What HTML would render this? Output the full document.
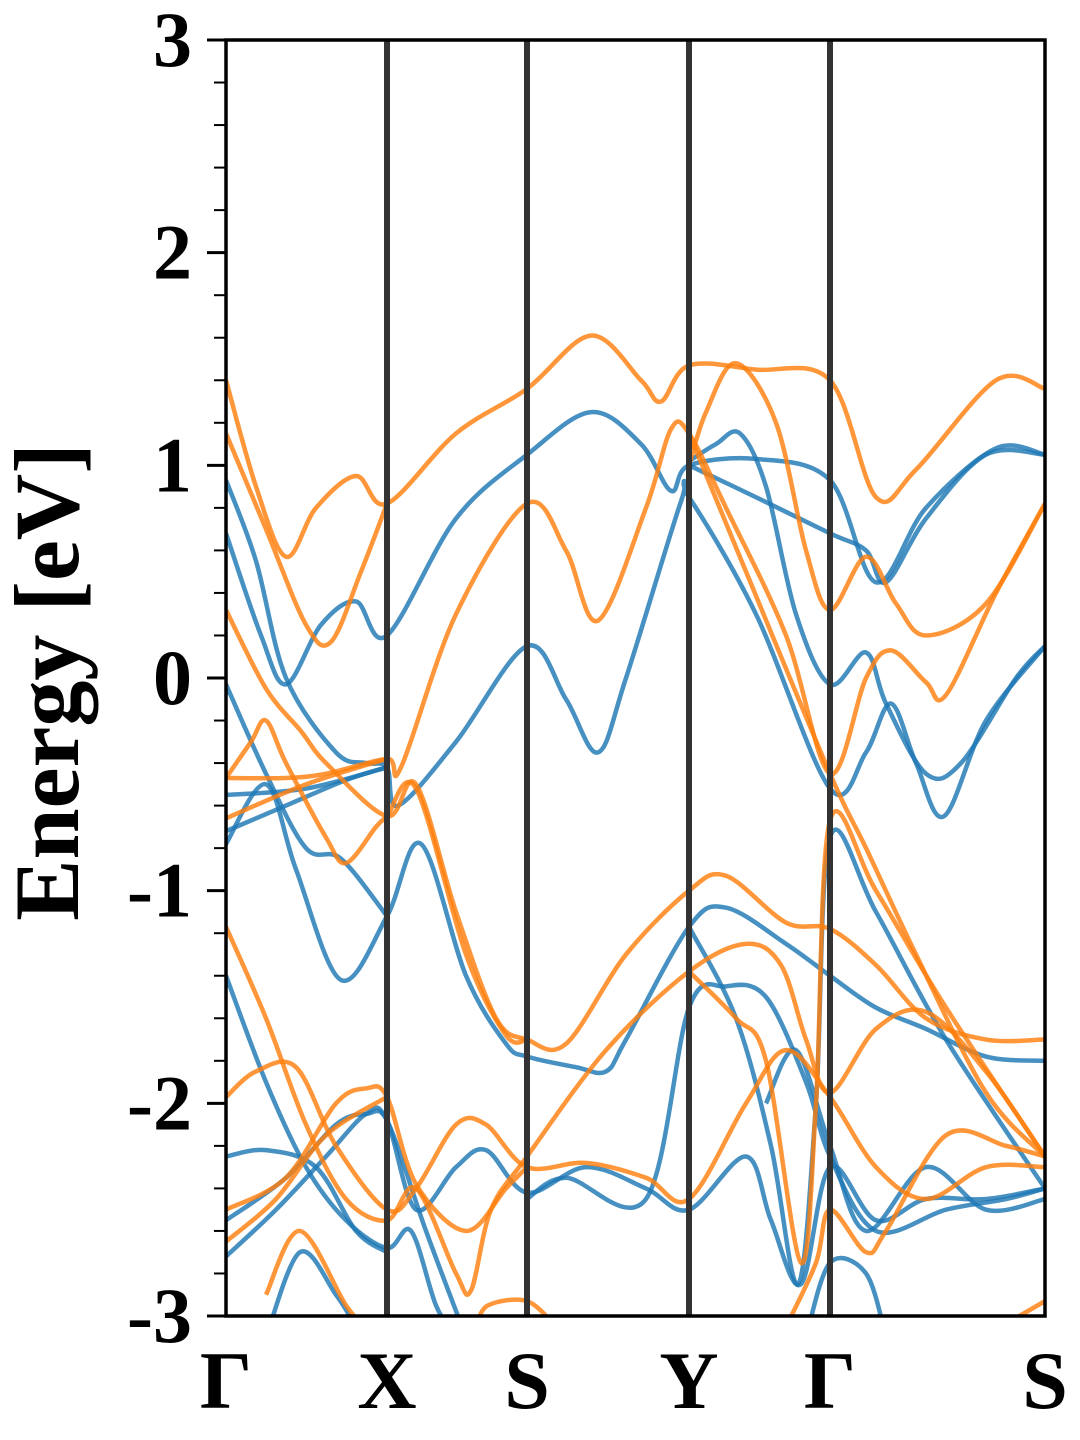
<!DOCTYPE html>
<html><head><meta charset="utf-8"><style>
html,body{margin:0;padding:0;background:#fff;}
svg{display:block;}
text{font-family:"Liberation Serif","Times New Roman",serif;font-weight:bold;fill:#000;}
</style></head>
<body>
<svg id="chart" width="1080" height="1440" viewBox="0 0 1080 1440" xmlns="http://www.w3.org/2000/svg">
<defs><clipPath id="clip"><rect x="226" y="40" width="819" height="1276"/></clipPath></defs>
<g id="bands" clip-path="url(#clip)"></g>
<g id="axes"></g>
</svg>
<script>
const kLabels = ["Γ","X","S","Y","Γ","S"];
const kTicks = [0,161,301,463,604,819];
const yTicks = [-3,-2,-1,0,1,2,3];
const blueBands = [
 [[0,0.93],[30,0.55],[60,0],[110,-0.35],[140,-0.4],[161,-0.42],[172,-0.6],[230,-0.3],[301,0.15],[340,-0.1],[372,-0.35],[400,0],[455,0.83],[463,0.85],[530,0.3],[604,-0.52],[640,-0.35],[665,-0.12],[690,-0.4],[718,-0.65],[760,-0.2],[819,0.15]],
 [[0,0.68],[35,0.2],[60,-0.03],[95,0.25],[130,0.36],[161,0.2],[230,0.75],[301,1.05],[365,1.25],[415,1.1],[445,0.88],[463,1.0],[530,1.03],[604,0.93],[650,0.45],[700,0.8],[770,1.08],[819,1.05]],
 [[463,1.02],[490,1.1],[514,1.15],[540,0.9],[570,0.3],[604,-0.03],[640,0.12],[660,-0.12],[700,-0.45],[735,-0.4],[790,0],[819,0.15]],
 [[463,1.0],[530,0.85],[604,0.68],[640,0.6],[660,0.45],[700,0.75],[760,1.05],[819,1.05]],
 [[0,-0.78],[40,-0.5],[70,-0.9],[115,-1.42],[161,-1.12],[195,-0.78],[240,-1.4],[280,-1.72],[301,-1.78],[350,-1.83],[380,-1.85],[400,-1.7],[463,-1.17],[500,-1.08],[560,-1.25],[604,-1.4],[650,-1.55],[700,-1.65],[760,-1.78],[819,-1.8]],
 [[0,-0.03],[40,-0.45],[80,-0.8],[115,-0.85],[161,-1.12]],
 [[0,-0.55],[80,-0.52],[161,-0.42]],
 [[0,-0.72],[60,-0.6],[120,-0.48],[161,-0.42]],
 [[0,-1.4],[40,-1.9],[80,-2.3],[120,-2.55],[161,-2.68],[185,-2.6],[210,-2.95],[230,-3.1]],
 [[0,-2.25],[40,-2.22],[90,-2.3],[130,-2.6],[161,-2.7]],
 [[0,-2.55],[60,-2.35],[110,-2.1],[140,-2.05],[161,-2.08],[190,-2.5],[230,-2.3],[260,-2.22],[301,-2.42],[360,-2.3],[420,-2.4],[463,-2.5],[520,-2.25],[545,-2.55],[575,-2.85],[604,-2.3],[650,-2.55],[700,-2.45],[760,-2.45],[819,-2.4]],
 [[0,-2.72],[50,-2.5],[100,-2.25],[140,-2.05],[161,-2.08],[200,-2.6],[240,-3.1]],
 [[40,-3.1],[74,-2.7],[110,-2.9],[130,-3.05]],
 [[301,-2.45],[340,-2.35],[420,-2.45],[463,-1.55],[500,-1.45],[540,-1.5],[580,-1.9],[604,-2.25],[650,-2.6],[720,-2.5],[780,-2.45],[819,-2.4]],
 [[463,-1.17],[510,-1.6],[545,-2.2],[572,-2.85],[590,-2.0],[604,-0.75],[650,-1.1],[720,-1.7],[819,-2.4]],
 [[540,-2.0],[570,-1.75],[604,-2.2],[640,-2.6],[700,-2.3],[760,-2.5],[819,-2.45]],
 [[580,-3.1],[604,-2.75],[640,-2.8],[660,-3.1]]
];
const orangeBands = [
 [[0,1.4],[30,0.9],[60,0.57],[90,0.8],[130,0.95],[161,0.82],[230,1.15],[301,1.36],[365,1.61],[415,1.4],[435,1.3],[463,1.47],[530,1.45],[604,1.4],[650,0.85],[690,0.98],[770,1.4],[819,1.36]],
 [[0,1.15],[40,0.7],[80,0.25],[105,0.17],[135,0.5],[161,0.82]],
 [[0,0.32],[40,-0.05],[75,-0.25],[100,-0.4],[161,-0.65],[190,-0.5],[230,-1.1],[270,-1.6],[301,-1.7],[340,-1.72],[400,-1.3],[463,-1.0],[500,-0.93],[560,-1.15],[604,-1.18],[650,-1.35],[700,-1.6],[760,-1.7],[819,-1.7]],
 [[0,-0.47],[60,-0.47],[100,-0.45],[161,-0.38],[175,-0.42],[230,0.3],[301,0.82],[340,0.6],[372,0.27],[420,0.8],[445,1.17],[463,1.15],[500,0.8],[560,0.2],[604,-0.45],[640,0],[665,0.13],[700,-0.02],[720,-0.08],[770,0.4],[819,0.82]],
 [[0,-0.66],[80,-0.5],[161,-0.38]],
 [[0,-0.47],[25,-0.3],[40,-0.2],[60,-0.4],[100,-0.75],[120,-0.87],[150,-0.7],[161,-0.65],[190,-0.52],[240,-1.3],[280,-1.68],[301,-1.7]],
 [[463,1.15],[520,0.5],[604,-0.45],[640,-0.8],[690,-1.3],[760,-1.95],[819,-2.25]],
 [[463,1.0],[480,1.25],[510,1.48],[550,1.2],[580,0.6],[604,0.32],[640,0.57],[670,0.35],[700,0.2],[760,0.35],[819,0.82]],
 [[463,-1.38],[510,-1.6],[540,-1.8],[575,-2.75],[590,-2.0],[604,-0.67],[650,-1.0],[720,-1.55],[819,-2.25]],
 [[0,-1.17],[40,-1.6],[80,-2.1],[120,-2.45],[161,-2.55],[190,-2.4],[230,-2.8],[245,-2.88],[265,-2.5],[301,-2.25],[380,-1.75],[463,-1.38],[520,-1.25],[555,-1.35],[580,-1.7],[604,-1.95],[650,-1.65],[700,-1.57],[760,-1.85],[819,-2.25]],
 [[0,-1.97],[30,-1.85],[70,-1.83],[110,-2.2],[161,-2.5],[190,-2.4],[230,-2.1],[260,-2.1],[301,-2.3],[360,-2.28],[420,-2.35],[463,-2.45],[520,-2.0],[560,-1.75],[604,-1.97],[650,-2.3],[700,-2.45],[760,-2.3],[819,-2.3]],
 [[0,-2.5],[60,-2.35],[110,-2.0],[140,-1.93],[161,-1.97],[190,-2.38],[240,-2.6],[280,-2.4],[301,-2.3]],
 [[0,-2.65],[50,-2.45],[100,-2.15],[161,-1.97]],
 [[40,-2.9],[74,-2.6],[120,-2.95],[140,-3.05]],
 [[560,-3.05],[590,-2.75],[604,-2.5],[640,-2.7],[660,-2.6],[720,-2.15],[780,-2.2],[819,-2.25]],
 [[250,-3.05],[262,-2.95],[301,-2.93],[330,-3.05]],
 [[775,-3.05],[819,-2.93]]
];
const X0=226, XW=819, Y0=678, YS=212.67;
function xPos(k){return X0+k*(XW/819);}
function yPos(e){return Y0-e*YS;}
const NS="http://www.w3.org/2000/svg";
function pathFor(pts){
 const p=pts.map(q=>[xPos(q[0]),yPos(q[1])]);
 let d="M"+p[0][0]+","+p[0][1];
 for(let i=0;i<p.length-1;i++){
  const a=p[Math.max(i-1,0)],b=p[i],c=p[i+1],e=p[Math.min(i+2,p.length-1)];
  const c1=[b[0]+(c[0]-a[0])/6,b[1]+(c[1]-a[1])/6];
  const c2=[c[0]-(e[0]-b[0])/6,c[1]-(e[1]-b[1])/6];
  d+=" C"+c1[0]+","+c1[1]+" "+c2[0]+","+c2[1]+" "+c[0]+","+c[1];
 }
 return d;
}
const bg=document.getElementById("bands");
blueBands.forEach((b,i)=>{
 const el=document.createElementNS(NS,"path");
 el.setAttribute("d",pathFor(b));
 el.setAttribute("fill","none");el.setAttribute("stroke","#1f77b4");el.setAttribute("stroke-opacity","0.82");el.setAttribute("stroke-width","4.5");
 
 
 bg.appendChild(el);
});
orangeBands.forEach((b,i)=>{
 const el=document.createElementNS(NS,"path");
 el.setAttribute("d",pathFor(b));
 el.setAttribute("fill","none");el.setAttribute("stroke","#ff7f0e");el.setAttribute("stroke-opacity","0.82");el.setAttribute("stroke-width","4.5");
 
 
 bg.appendChild(el);
});
const ax=document.getElementById("axes");
kTicks.forEach((k,i)=>{
 if(i>0&&i<kTicks.length-1){
  const l=document.createElementNS(NS,"line");
  l.setAttribute("x1",xPos(k));l.setAttribute("x2",xPos(k));l.setAttribute("y1",40);l.setAttribute("y2",1316);
  l.setAttribute("stroke","#333");l.setAttribute("stroke-width","6");
  
  
  ax.appendChild(l);
 }
 const t=document.createElementNS(NS,"text");
 t.setAttribute("x",xPos(k));t.setAttribute("y",1408);t.setAttribute("font-size","82");t.setAttribute("text-anchor","middle");
 t.textContent=kLabels[i];
 
 
 ax.appendChild(t);
});
for(let v=-30;v<=30;v+=2){
 const e=v/10, major=(v%10===0);
 const l=document.createElementNS(NS,"line");
 l.setAttribute("x1",major?207:214);l.setAttribute("x2",226);l.setAttribute("y1",yPos(e));l.setAttribute("y2",yPos(e));
 l.setAttribute("stroke","#000");l.setAttribute("stroke-width",major?3:2);
 
 
 ax.appendChild(l);
}
yTicks.forEach(v=>{
 const t=document.createElementNS(NS,"text");
 t.setAttribute("x",192);t.setAttribute("y",yPos(v)+26);t.setAttribute("font-size","78");t.setAttribute("text-anchor","end");
 t.textContent=String(v);
 
 
 ax.appendChild(t);
});
const fr=document.createElementNS(NS,"rect");
fr.setAttribute("x",226);fr.setAttribute("y",40);fr.setAttribute("width",819);fr.setAttribute("height",1276);
fr.setAttribute("fill","none");fr.setAttribute("stroke","#000");fr.setAttribute("stroke-width","3.5");


ax.appendChild(fr);
const yl=document.createElementNS(NS,"text");
yl.setAttribute("x",0);yl.setAttribute("y",0);yl.setAttribute("font-size","92");yl.setAttribute("text-anchor","middle");
yl.setAttribute("transform","translate(78,682) rotate(-90)");
yl.textContent="Energy [eV]";


ax.appendChild(yl);
</script>
</body></html>
